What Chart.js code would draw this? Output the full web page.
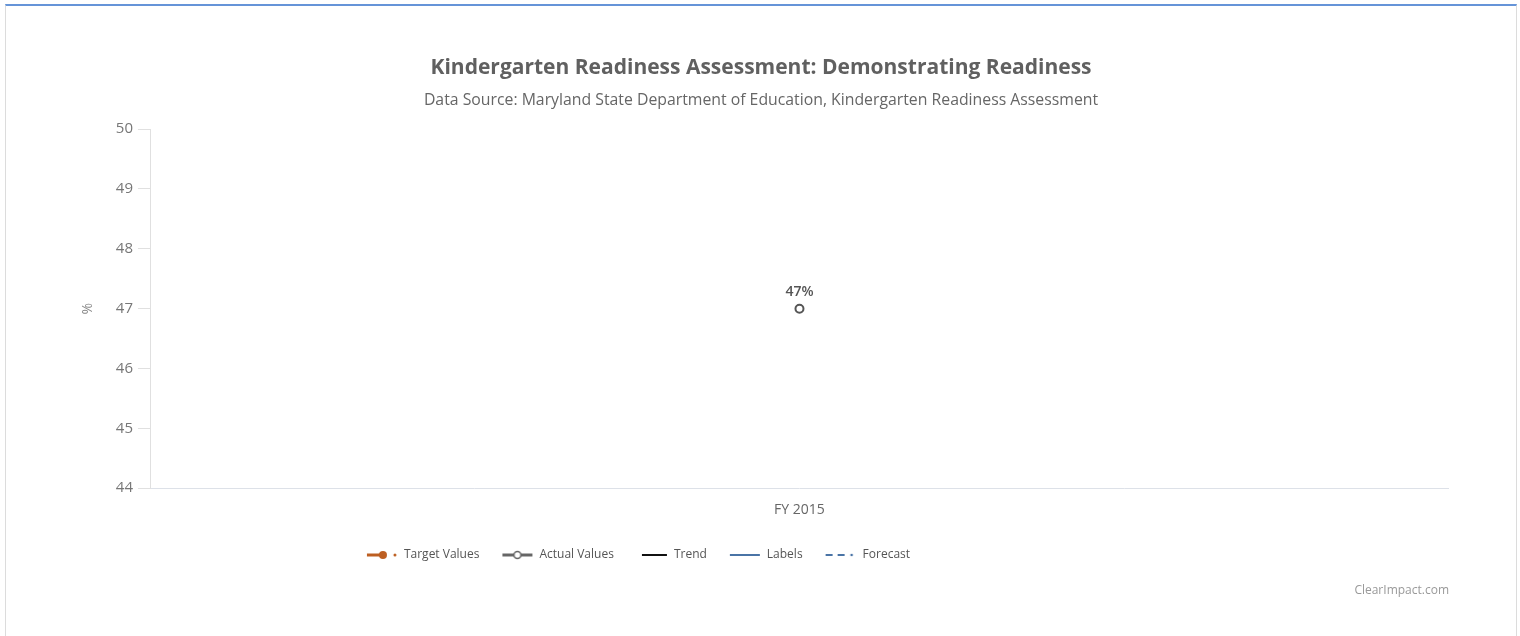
<!DOCTYPE html>
<html>
<head>
<meta charset="utf-8">
<script src="https://cdn.jsdelivr.net/npm/chart.js@4"></script>
<style>
  html, body { margin: 0; padding: 0; background: #fff; }
  #frame { position: absolute; left: 5px; top: 4px; width: 1510px; height: 640px;
           border-top: 2px solid #6594d8; border-left: 1px solid #dcdcdc; border-right: 1px solid #dcdcdc; }
  #wrap { position: absolute; left: 0; top: 0; width: 1520px; height: 636px; }
</style>
</head>
<body>
<div id="frame"></div>
<div id="wrap"><canvas id="myCanvas" width="1520" height="636"></canvas></div>
<script>
const categories = ['FY 2015'];
const actualValues = [47];
const targetValues = [null];
const yTicks = [44, 45, 46, 47, 48, 49, 50];
const legendNames = ['Target Values', 'Actual Values', 'Trend', 'Labels', 'Forecast'];

// little legend symbols
function symbol(kind) {
  let c = document.createElement('canvas');
  c.width = 32; c.height = 12;
  let g = c.getContext('2d');
  g.lineCap = 'butt';
  if (kind == 0) {
    g.strokeStyle = g.fillStyle = '#bd5f22';
    g.lineWidth = 3;
    g.beginPath(); g.moveTo(1, 6); g.lineTo(17, 6); g.stroke();
    g.beginPath(); g.arc(17, 6, 4, 0, Math.PI * 2); g.fill();
    g.beginPath(); g.arc(29, 6, 1.5, 0, Math.PI * 2); g.fill();
  } else if (kind == 1) {
    g.strokeStyle = '#666';
    g.lineWidth = 3;
    g.beginPath(); g.moveTo(1, 6); g.lineTo(31, 6); g.stroke();
    g.fillStyle = '#fff';
    g.lineWidth = 1.5;
    g.beginPath(); g.arc(16, 6, 3.5, 0, Math.PI * 2); g.fill(); g.stroke();
  } else if (kind == 2) {
    g.strokeStyle = '#111';
    g.lineWidth = 2;
    g.beginPath(); g.moveTo(6, 6); g.lineTo(31, 6); g.stroke();
  } else if (kind == 3) {
    g.strokeStyle = '#4a74a6';
    g.lineWidth = 2;
    g.beginPath(); g.moveTo(1, 6); g.lineTo(31, 6); g.stroke();
  } else {
    g.strokeStyle = g.fillStyle = '#4a74a6';
    g.lineWidth = 2;
    g.beginPath(); g.moveTo(1, 6); g.lineTo(8, 6); g.moveTo(13, 6); g.lineTo(20, 6); g.stroke();
    g.beginPath(); g.arc(27, 6, 1.3, 0, Math.PI * 2); g.fill();
  }
  return c;
}
const symbols = legendNames.map((n, i) => symbol(i));

const pointLabels = {
  id: 'pointLabels',
  afterDatasetsDraw(chart) {
    let ctx = chart.ctx;
    let meta = chart.getDatasetMeta(1);
    ctx.save();
    ctx.font = '600 14px "Open Sans"';
    ctx.fillStyle = '#555';
    ctx.textAlign = 'center';
    ctx.textBaseline = 'middle';
    meta.data.forEach((pt, i) => {
      if (actualValues[i] == null) return;
      ctx.fillText(actualValues[i] + '%', pt.x, pt.y - 17);
    });
    ctx.restore();
  }
};

// legend sits left of centre in the original
const legendShift = {
  id: 'legendShift',
  afterLayout(chart) {
    let lg = chart.legend;
    lg.left -= 123; lg.right -= 123;
    lg.top -= 4; lg.bottom -= 4;
  }
};

const credits = {
  id: 'credits',
  afterDraw(chart) {
    let ctx = chart.ctx;
    ctx.save();
    ctx.font = '12px "Open Sans"';
    ctx.fillStyle = '#999';
    ctx.textAlign = 'right';
    ctx.textBaseline = 'middle';
    ctx.fillText('ClearImpact.com', 1449, 591);
    ctx.restore();
  }
};

let ctx = document.getElementById('myCanvas').getContext('2d');
let myLineChart = new Chart(ctx, {
  type: 'line',
  data: {
    labels: categories,
    datasets: [
      { label: legendNames[0], data: targetValues, borderColor: '#bd5f22', backgroundColor: '#bd5f22' },
      { label: legendNames[1], data: actualValues, borderColor: '#555', backgroundColor: '#fff',
        pointRadius: 4, pointBorderWidth: 2, pointHoverRadius: 4 },
      { label: legendNames[2], data: [], borderColor: '#111' },
      { label: legendNames[3], data: [], borderColor: '#4a74a6' },
      { label: legendNames[4], data: [], borderColor: '#4a74a6', borderDash: [6, 4] }
    ]
  },
  options: {
    responsive: false,
    animation: false,
    layout: { padding: { top: 55, left: 74, right: 72, bottom: 61 } },
    plugins: {
      title: {
        display: true,
        text: 'Kindergarten Readiness Assessment: Demonstrating Readiness',
        font: { family: 'Open Sans', size: 21, weight: 'bold' },
        color: '#606060',
        padding: { top: 0, bottom: 11 }
      },
      subtitle: {
        display: true,
        text: 'Data Source: Maryland State Department of Education, Kindergarten Readiness Assessment',
        font: { family: 'Open Sans', size: 15.8 },
        color: '#666',
        padding: { top: 0, bottom: 19 }
      },
      legend: {
        position: 'bottom',
        labels: {
          usePointStyle: true,
          pointStyleWidth: 32,
          padding: 22,
          color: '#555',
          font: { family: 'Open Sans', size: 12 },
          generateLabels: chart => legendNames.map((n, i) => ({
            text: n, pointStyle: symbols[i], datasetIndex: i, hidden: false,
            fontColor: '#555', lineWidth: 0, strokeStyle: 'transparent', fillStyle: 'transparent'
          }))
        }
      },
      tooltip: { enabled: false }
    },
    scales: {
      x: {
        offset: true,
        grid: { display: false, drawTicks: false },
        border: { color: '#dde1e8', width: 1 },
        ticks: { color: '#666', font: { family: 'Open Sans', size: 14 }, padding: 13 }
      },
      y: {
        min: yTicks[0],
        max: yTicks[yTicks.length - 1],
        afterBuildTicks: axis => { axis.ticks = yTicks.map(v => ({ value: v })); },
        grid: { drawOnChartArea: false, tickLength: 13, color: '#e0e0e0' },
        border: { color: '#e0e0e0', width: 1 },
        ticks: { color: '#777', font: { family: 'Open Sans', size: 15 }, padding: 5 },
        title: {
          display: true, text: '%', color: '#888',
          font: { family: 'Open Sans', size: 14 },
          padding: { top: 6, bottom: 14 }
        }
      }
    }
  },
  plugins: [pointLabels, legendShift, credits]
});
</script>
</body>
</html>
